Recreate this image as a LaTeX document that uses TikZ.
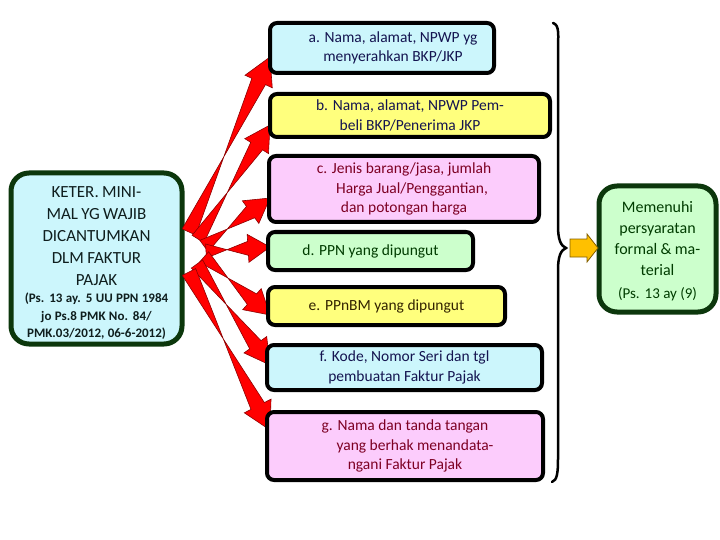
\documentclass[tikz,border=0pt]{standalone}
\usepackage{fontspec}
\setmainfont{Carlito}
\usetikzlibrary{calc}
\definecolor{cyanfill}{RGB}{204,246,252}
\definecolor{yelfill}{RGB}{255,255,125}
\definecolor{pinkfill}{RGB}{252,204,252}
\definecolor{grnfill}{RGB}{204,255,204}
\definecolor{dkgrn}{RGB}{12,55,12}
\definecolor{navytxt}{RGB}{20,20,80}
\definecolor{redtxt}{RGB}{125,0,35}
\definecolor{grntxt}{RGB}{0,60,0}
\definecolor{browntxt}{RGB}{50,35,0}
\definecolor{lefttxt}{RGB}{15,30,30}
\definecolor{orangefill}{RGB}{255,192,0}
\definecolor{orangeline}{RGB}{130,95,0}
\definecolor{arrline}{RGB}{140,0,0}
\newcommand\blockarr[5]{%
  \path ($(#2)!#5!(#1)$) coordinate (hb);
  \filldraw[blockstyle]
    ($(#1)!#3!90:(#2)$) -- ($(hb)!#3!-90:(#2)$) -- ($(hb)!#4!-90:(#2)$) -- (#2)
    -- ($(hb)!#4!90:(#2)$) -- ($(hb)!#3!90:(#2)$) -- ($(#1)!#3!-90:(#2)$) -- cycle;}
\newcommand\bigL{\fontsize{17}{22}\selectfont}
\newcommand\smallL{\fontsize{13}{17.5}\selectfont\bfseries}
\newcommand\bigR{\fontsize{16}{21}\selectfont}
\newcommand\smallR{\fontsize{15}{23}\selectfont}
\begin{document}
\begin{tikzpicture}[x=1pt,y=-1pt,
  itembox/.style={draw=black,line width=4pt,rounded corners=7pt,align=center,inner sep=0pt,
    font=\fontsize{15.5}{19.5}\selectfont},
  sidebox/.style={draw=dkgrn,line width=5pt,rounded corners=18pt,inner sep=0pt},
  sidetext/.style={align=center,inner sep=0pt},
  blockstyle/.style={fill=red,draw=arrline,line width=0.6pt,line join=miter},
  orangestyle/.style={fill=orangefill,draw=orangeline,line width=0.8pt}]
\useasboundingbox (0,0) rectangle (720,540);
% left box
\node[sidebox,fill=cyanfill,minimum width=171pt,minimum height=171pt] (L) at (96.5,258.5) {};
\node[sidetext,text=lefttxt,text width=165pt] (Lt) at (96.5,263)
  {\bigL KETER. MINI-\\MAL YG WAJIB\\DICANTUMKAN\\DLM FAKTUR\\PAJAK\par
   \smallL (Ps. 13 ay. 5 UU PPN 1984\\jo Ps.8 PMK No. 84/\\PMK.03/2012, 06-6-2012)\par};
% tails and tips
\coordinate (sa) at (189,232);
\coordinate (sb) at (198,239);
\coordinate (sc) at (204,246);
\coordinate (sd) at (206,251);
\coordinate (se) at (204,257);
\coordinate (sf) at (197,264);
\coordinate (sg) at (189,272);
\coordinate (ta) at (270,57);
\coordinate (tb) at (270,125);
\coordinate (tc) at (270,198);
\coordinate (td) at (270,247);
\coordinate (te) at (270,315);
\coordinate (tf) at (270,365);
\coordinate (tg) at (270,430);
\blockarr{sa}{ta}{7.5pt}{15pt}{27pt}
\blockarr{sb}{tb}{7pt}{14pt}{25pt}
\blockarr{sc}{tc}{7pt}{14pt}{24pt}
\blockarr{sd}{td}{7pt}{14pt}{22pt}
\blockarr{se}{te}{7pt}{14pt}{24pt}
\blockarr{sf}{tf}{7pt}{14pt}{25pt}
\blockarr{sg}{tg}{7.5pt}{15pt}{27pt}
% item boxes
\node[itembox,fill=cyanfill,text=navytxt,minimum width=224pt,minimum height=50pt] (a) at (382,48)
  {\hspace*{22pt}a. Nama, alamat, NPWP yg\\\hspace*{22pt}menyerahkan BKP/JKP};
\node[itembox,fill=yelfill,text=navytxt,minimum width=280pt,minimum height=43pt] (b) at (410,115.5)
  {b. Nama, alamat, NPWP Pem-\\beli BKP/Penerima JKP};
\node[itembox,fill=pinkfill,text=redtxt,minimum width=270pt,minimum height=66pt] (c) at (404,189)
  {c. Jenis barang/jasa, jumlah\\\hspace*{16pt}Harga Jual/Penggantian,\\dan potongan harga};
\node[itembox,fill=grnfill,text=grntxt,minimum width=205pt,minimum height=38pt] (d) at (370.5,251)
  {d. PPN yang dipungut};
\node[itembox,fill=yelfill,text=browntxt,minimum width=237pt,minimum height=38pt] (e) at (386.5,306)
  {e. PPnBM yang dipungut};
\node[itembox,fill=cyanfill,text=navytxt,minimum width=275pt,minimum height=45pt] (f) at (404.5,367.5)
  {f. Kode, Nomor Seri dan tgl\\pembuatan Faktur Pajak};
\node[itembox,fill=pinkfill,text=redtxt,minimum width=276pt,minimum height=68pt] (g) at (405,446)
  {g. Nama dan tanda tangan\\\hspace*{20pt}yang berhak menandata-\\ngani Faktur Pajak};
% brace
\coordinate (bt) at (553,23);
\coordinate (bm) at (566,248);
\coordinate (bb) at (552,482);
\draw[line width=2.5pt,line cap=round] (bt) .. controls (560,25) and (558,36) .. (558,52) -- (558,226)
  .. controls (558,240) and (561,246) .. (bm) .. controls (561,250) and (558,256) .. (558,270)
  -- (558,458) .. controls (558,474) and (557,480) .. (bb);
% right box
\node[sidebox,fill=grnfill,minimum width=117pt,minimum height=126pt] (R) at (657.5,249) {};
\node[sidetext,text=grntxt,text width=112pt] (Rt) at (657.5,251)
  {\bigR Memenuhi\\persyaratan\\formal \& ma-\\terial\par
   \smallR (Ps. 13 ay (9)\par};
% orange arrow
\coordinate (os) at (570,248);
\coordinate (ot) at (598,248);
\filldraw[orangestyle] (os) ++(0,-9) -- (587,239) -- (587,234) -- (ot) -- (587,262) -- (587,257) -- (570,257) -- cycle;
\end{tikzpicture}
\end{document}
